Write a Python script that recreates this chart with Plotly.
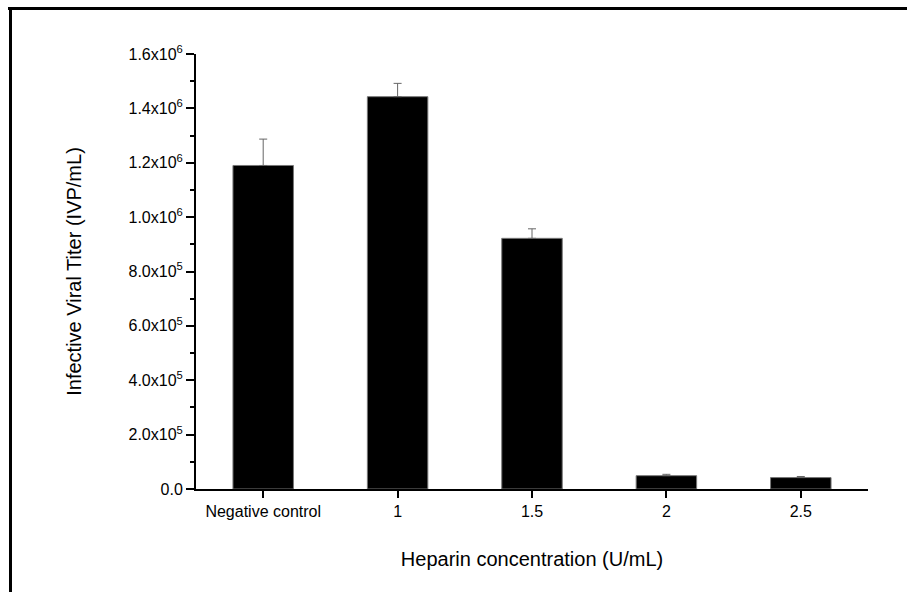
import plotly.graph_objects as go

categories = ["Negative control", "1", "1.5", "2", "2.5"]
titer = [1.19e6, 1.443e6, 0.922e6, 0.049e6, 0.042e6]
titer_err = [0.097e6, 0.049e6, 0.035e6, 0.005e6, 0.004e6]
ytick_vals = [0, 2e5, 4e5, 6e5, 8e5, 1.0e6, 1.2e6, 1.4e6, 1.6e6]
ytick_text = ["0.0", "2.0x10<sup>5</sup>", "4.0x10<sup>5</sup>", "6.0x10<sup>5</sup>",
              "8.0x10<sup>5</sup>", "1.0x10<sup>6</sup>", "1.2x10<sup>6</sup>",
              "1.4x10<sup>6</sup>", "1.6x10<sup>6</sup>"]

W, H = 907, 592
L, R, T, B = 196, 39, 54, 103
pw, ph = W - L - R, H - T - B

def px(x):
    return (x - L) / pw

def py(y):
    return (H - B - y) / ph

fig = go.Figure()
fig.add_trace(go.Bar(
    x=categories, y=titer, width=0.45,
    marker=dict(color="black", line=dict(color="#777777", width=1)),
    error_y=dict(type="data", array=titer_err, arrayminus=[0] * len(titer_err),
                 symmetric=False, color="#666666", thickness=1, width=4),
))

font = "Liberation Sans, Arial, sans-serif"
fig.update_layout(
    width=W, height=H,
    margin=dict(l=L, r=R, t=T, b=B, pad=0),
    paper_bgcolor="white", plot_bgcolor="white",
    showlegend=False,
    font=dict(family=font, color="black", size=16),
    xaxis=dict(
        range=[-0.5, 4.5], showline=True, linecolor="black", linewidth=2,
        ticks="outside", ticklen=7, tickwidth=2, tickcolor="black",
        showgrid=False, zeroline=False,
        tickfont=dict(size=16, family=font),
        title=dict(text="Heparin concentration (U/mL)", font=dict(size=20, family=font), standoff=33),
    ),
    yaxis=dict(
        range=[0, 1.6e6], showline=True, linecolor="black", linewidth=2,
        ticks="outside", ticklen=8, tickwidth=2, tickcolor="black",
        tickvals=ytick_vals, ticktext=ytick_text,
        minor=dict(dtick=1e5, ticks="outside", ticklen=4, tickwidth=2, tickcolor="black"),
        showgrid=False, zeroline=False,
        tickfont=dict(size=16, family=font),
        title=dict(text="Infective Viral Titer (IVP/mL)", font=dict(size=20, family=font), standoff=42),
    ),
    shapes=[
        dict(type="line", xref="paper", yref="paper", x0=px(8), x1=px(907), y0=py(8.5), y1=py(8.5),
             line=dict(color="black", width=3)),
        dict(type="line", xref="paper", yref="paper", x0=px(10.5), x1=px(10.5), y0=py(7), y1=py(592),
             line=dict(color="black", width=3)),
    ],
)

fig.write_html("out.html")
